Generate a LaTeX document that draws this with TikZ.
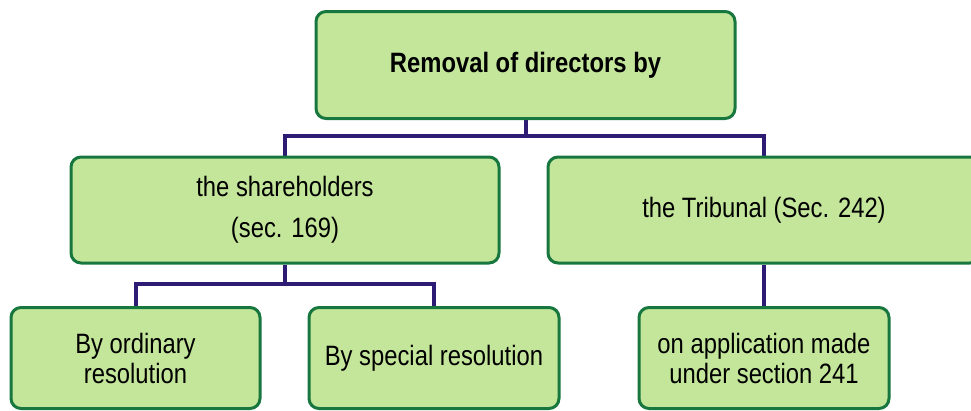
\documentclass[tikz,border=0pt]{standalone}
\usepackage{fontspec}
\setmainfont{Liberation Sans}[FakeStretch=0.85]
\usetikzlibrary{backgrounds}
\definecolor{boxfill}{HTML}{C4E69A}
\definecolor{boxline}{HTML}{17773F}
\definecolor{connline}{HTML}{2E1C74}
\tikzset{
  box/.style={draw=boxline, fill=boxfill, line width=3pt, rounded corners=10pt,
    inner sep=0pt, align=center, font=\fontsize{28}{30}\selectfont},
  conn/.style={draw=connline, line width=4pt}
}
\begin{document}
\begin{tikzpicture}[x=1pt,y=-1pt]
\useasboundingbox (0,0) rectangle (971,410);
\node[box, minimum width=419pt, minimum height=107pt, font=\fontsize{28}{30}\selectfont\bfseries] (top) at (525.5,65) {Removal of directors by};
\node[box, minimum width=428pt, minimum height=106pt, font=\fontsize{28}{41}\selectfont] (share) at (285,210) {the shareholders\\(sec. 169)};
\node[box, minimum width=432pt, minimum height=106pt] (trib) at (764,210) {the Tribunal (Sec. 242)};
\node[box, minimum width=249pt, minimum height=101pt] (ord) at (135.5,358) {By ordinary\\resolution};
\node[box, minimum width=250pt, minimum height=101pt] (spec) at (434,358) {By special resolution};
\node[box, minimum width=250pt, minimum height=101pt] (app) at (764,358) {on application made\\under section 241};
\coordinate (j1) at (525.5,136);
\coordinate (j2) at (285,284);
\begin{scope}[on background layer]
\draw[conn] (top.south) -- (top.south |- j1) -| (share.north);
\draw[conn] (top.south |- j1) -| (trib.north);
\draw[conn] (share.south) -- (share.south |- j2) -| (ord.north);
\draw[conn] (share.south |- j2) -| (spec.north);
\draw[conn] (trib.south) -- (app.north);
\end{scope}
\end{tikzpicture}
\end{document}
